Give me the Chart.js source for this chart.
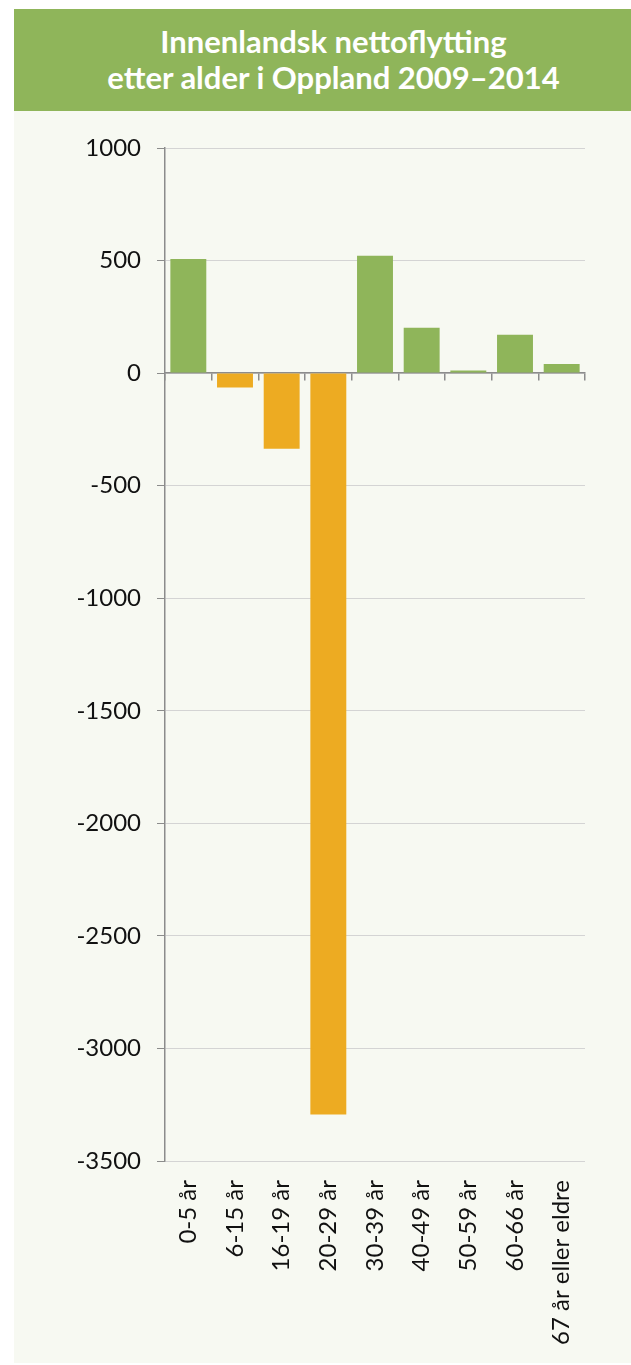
<!DOCTYPE html>
<html>
<head>
<meta charset="utf-8">
<script src="https://cdn.jsdelivr.net/npm/chart.js@4/dist/chart.umd.min.js"></script>
<style>
  html, body { margin: 0; padding: 0; background: #fff; }
  #panel { position: absolute; left: 14px; top: 9px; width: 617px; height: 1354px; background: #f7f9f2; }
  #banner { height: 102px; background: #8fb55a; color: #fff; font-family: Lato, sans-serif; font-weight: bold;
            font-size: 31px; line-height: 36px; text-align: center; padding-top: 14px; box-sizing: border-box;
            padding-left: 22px; }
  #chart { position: absolute; left: 0; top: 102px; }
</style>
</head>
<body>
<div id="panel">
  <div id="banner">Innenlandsk nettoflytting<br>etter alder i Oppland 2009–2014</div>
  <canvas id="chart" width="617" height="1252"></canvas>
</div>
<script>
var categories = ['0-5 år', '6-15 år', '16-19 år', '20-29 år', '30-39 år', '40-49 år', '50-59 år', '60-66 år', '67 år eller eldre'];
var netMigration = [507, -64, -336, -3293, 521, 201, 12, 170, 41];
var yTicks = [1000, 500, 0, -500, -1000, -1500, -2000, -2500, -3000, -3500];

var green = '#8fb55a';
var orange = '#edab22';
var axisGrey = '#8c8c8c';

Chart.defaults.font.family = 'Lato, sans-serif';
Chart.defaults.color = '#111';

var ctx = document.getElementById('chart');
var chart = new Chart(ctx, {
  type: 'bar',
  data: {
    labels: categories,
    datasets: [{
      data: netMigration,
      xAxisID: 'x',
      backgroundColor: function (c) { return c.raw >= 0 ? green : orange; },
      categoryPercentage: 1,
      barPercentage: 0.77
    }]
  },
  options: {
    responsive: false,
    animation: false,
    devicePixelRatio: 1,
    layout: { padding: { top: 37, right: 46, left: 0, bottom: 0 } },
    plugins: { legend: { display: false }, tooltip: { enabled: false }, title: { display: false } },
    scales: {
      y: {
        min: yTicks[yTicks.length - 1],
        max: yTicks[0],
        afterBuildTicks: function (s) { s.ticks = yTicks.map(function (v) { return { value: v }; }); },
        afterFit: function (s) { s.width = 151; },
        ticks: { font: { size: 24 }, color: '#111', padding: 16, callback: function (v) { return String(v); } },
        grid: { color: '#d4d4d4', tickColor: axisGrey, tickLength: 8, lineWidth: 1 },
        border: { color: axisGrey, width: 1.5 }
      },
      x: {
        type: 'category',
        position: { y: 0 },
        offset: true,
        afterFit: function (s) { s.height = 0; },
        ticks: { display: false },
        grid: { drawOnChartArea: false, offset: true, tickLength: 7, color: axisGrey, lineWidth: 1.5 },
        border: { color: axisGrey, width: 1.5 }
      },
      x2: {
        type: 'category',
        labels: categories,
        position: 'bottom',
        offset: true,
        afterFit: function (s) { s.height = 202; },
        ticks: { font: { size: 24 }, color: '#111', minRotation: 90, maxRotation: 90, autoSkip: false, padding: 19 },
        grid: { display: false, drawTicks: false },
        border: { display: false }
      }
    }
  }
});
</script>
</body>
</html>
